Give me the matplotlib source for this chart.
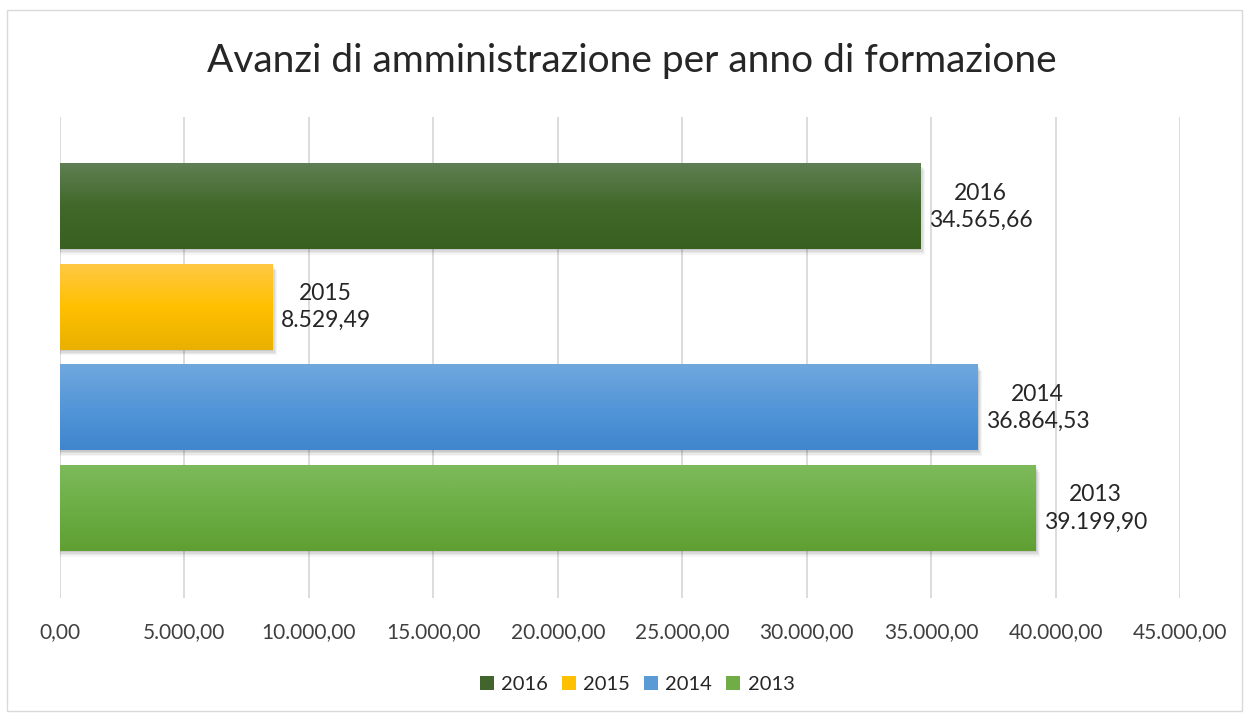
import numpy as np
import matplotlib.pyplot as plt
from matplotlib.patches import Rectangle
from matplotlib.ticker import FuncFormatter
from matplotlib.colors import LinearSegmentedColormap

plt.rcParams['font.family'] = ['Lato', 'DejaVu Sans']

# data
years = ['2016', '2015', '2014', '2013']
values = [34565.66, 8529.49, 36864.53, 39199.90]
positions = [3, 2, 1, 0]
# gradient colours top -> bottom
grad_top = ['#5F7F52', '#FFC843', '#70A8DE', '#7DBA5B']
grad_mid = ['#41682A', '#FFC000', '#5496D8', '#6CAE45']
grad_bot = ['#3A6020', '#E8B000', '#3F86CE', '#5F9F32']
legend_col = ['#41652C', '#FFC000', '#5B9BD5', '#70AD47']

def fmt_it(v, decimals=2):
    s = f'{v:,.{decimals}f}'
    return s.replace(',', 'X').replace('.', ',').replace('X', '.')

fig = plt.figure(figsize=(12.47, 7.13), dpi=100)
fig.patches.append(Rectangle((0.006, 0.003), 0.99, 0.983, transform=fig.transFigure,
                             fill=False, edgecolor='#D9D9D9', linewidth=1))
ax = fig.add_axes([0.0481, 0.1613, 0.8982, 0.6746])

bar_h = 0.845
ax.set_xlim(0, 45000)
ax.set_ylim(-0.89, 3.89)

for y, v, c1, c2, c3, yr in zip(positions, values, grad_top, grad_mid, grad_bot, years):
    # soft shadow, down and right
    for k, a in enumerate([0.04, 0.05, 0.06, 0.08]):
        off = 45 * (4 - k)
        ax.add_patch(Rectangle((0, y - bar_h / 2 - 0.014 * (4 - k)), v + off, bar_h,
                               facecolor='black', alpha=a, edgecolor='none', zorder=2))
    cmap = LinearSegmentedColormap.from_list('g', [c1, c2, c3])
    grad = np.linspace(0, 1, 100).reshape(-1, 1)
    ax.imshow(grad, cmap=cmap, aspect='auto', zorder=3,
              extent=(0, v, y - bar_h / 2, y + bar_h / 2), origin='upper',
              interpolation='bicubic')
    ax.text(v + 330, y, yr + '\n' + fmt_it(v), ha='left', va='center',
            multialignment='center', fontsize=16.5, color='#262626', zorder=4,
            linespacing=1.35)

ax.set_xticks(np.arange(0, 45001, 5000))
ax.xaxis.set_major_formatter(FuncFormatter(lambda x, p: fmt_it(x)))
ax.tick_params(axis='x', length=0, pad=17, labelsize=15, labelcolor='#404040')
ax.set_yticks([])
ax.grid(axis='x', color='#D9D9D9', linewidth=1.3, zorder=0)
ax.set_axisbelow(True)
for s in ax.spines.values():
    s.set_visible(False)

fig.text(0.507, 0.915, 'Avanzi di amministrazione per anno di formazione',
         ha='center', va='center', fontsize=28, color='#262626')

handles = [Rectangle((0, 0), 1, 1, facecolor=c) for c in legend_col]
fig.legend(handles, years, loc='center', bbox_to_anchor=(0.511, 0.04), ncol=4,
           frameon=False, fontsize=14.5, handlelength=0.7, handleheight=0.7,
           handletextpad=0.35, columnspacing=0.7, labelcolor='#262626')

fig.savefig('out.png', dpi=100)
